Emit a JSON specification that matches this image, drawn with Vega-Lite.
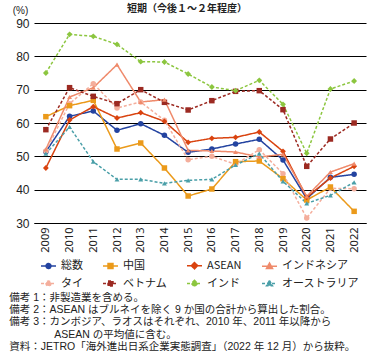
{
  "$schema": "https://vega.github.io/schema/vega-lite/v6.json",
  "padding": {"left": 9, "top": 4, "right": 5, "bottom": 5},
  "background": "white",
  "title": {
    "text": ["備考 1：非製造業を含める。", "備考 2：ASEAN はブルネイを除く 9 か国の合計から算出した割合。", "備考 3：カンボジア、ラオスはそれぞれ、2010 年、2011 年以降から", "\u200b\u3000\u3000\u3000\u3000 ASEAN の平均値に含む。", "資料：JETRO「海外進出日系企業実態調査」（2022 年 12 月）から抜粋。"],
    "orient": "bottom", "anchor": "start", "frame": "bounds",
    "font": "Liberation Sans, Noto Sans CJK JP", "fontSize": 10.5, "fontWeight": "normal", "color": "#222222",
    "lineHeight": 12.2, "offset": -3, "dx": -3
  },
  "vconcat": [
    {
      "width": 332,
      "height": 200,
      "title": {"text": "短期（今後１～２年程度）", "anchor": "middle", "frame": "group", "font": "Noto Sans CJK JP", "fontSize": 10, "fontWeight": "bold", "color": "#222222", "offset": -9, "dx": -13},
      "data": {"values": [
        {"year": "2009", "series": "総数", "value": 51.4}, {"year": "2010", "series": "総数", "value": 62.0}, {"year": "2011", "series": "総数", "value": 63.6}, {"year": "2012", "series": "総数", "value": 57.8}, {"year": "2013", "series": "総数", "value": 59.8}, {"year": "2014", "series": "総数", "value": 56.3}, {"year": "2015", "series": "総数", "value": 51.2}, {"year": "2016", "series": "総数", "value": 52.2}, {"year": "2017", "series": "総数", "value": 53.7}, {"year": "2018", "series": "総数", "value": 55.1}, {"year": "2019", "series": "総数", "value": 48.9}, {"year": "2020", "series": "総数", "value": 37.3}, {"year": "2021", "series": "総数", "value": 43.7}, {"year": "2022", "series": "総数", "value": 44.6},
        {"year": "2009", "series": "中国", "value": 61.9}, {"year": "2010", "series": "中国", "value": 65.2}, {"year": "2011", "series": "中国", "value": 66.8}, {"year": "2012", "series": "中国", "value": 52.2}, {"year": "2013", "series": "中国", "value": 54.0}, {"year": "2014", "series": "中国", "value": 46.5}, {"year": "2015", "series": "中国", "value": 38.1}, {"year": "2016", "series": "中国", "value": 40.2}, {"year": "2017", "series": "中国", "value": 48.4}, {"year": "2018", "series": "中国", "value": 48.6}, {"year": "2019", "series": "中国", "value": 43.3}, {"year": "2020", "series": "中国", "value": 36.9}, {"year": "2021", "series": "中国", "value": 40.8}, {"year": "2022", "series": "中国", "value": 33.5},
        {"year": "2009", "series": "ASEAN", "value": 46.5}, {"year": "2010", "series": "ASEAN", "value": 60.9}, {"year": "2011", "series": "ASEAN", "value": 64.9}, {"year": "2012", "series": "ASEAN", "value": 61.5}, {"year": "2013", "series": "ASEAN", "value": 63.1}, {"year": "2014", "series": "ASEAN", "value": 60.5}, {"year": "2015", "series": "ASEAN", "value": 54.2}, {"year": "2016", "series": "ASEAN", "value": 55.4}, {"year": "2017", "series": "ASEAN", "value": 55.7}, {"year": "2018", "series": "ASEAN", "value": 57.3}, {"year": "2019", "series": "ASEAN", "value": 51.5}, {"year": "2020", "series": "ASEAN", "value": 37.7}, {"year": "2021", "series": "ASEAN", "value": 43.5}, {"year": "2022", "series": "ASEAN", "value": 47.0},
        {"year": "2009", "series": "インドネシア", "value": 52.1}, {"year": "2010", "series": "インドネシア", "value": 67.8}, {"year": "2011", "series": "インドネシア", "value": 70.6}, {"year": "2012", "series": "インドネシア", "value": 77.5}, {"year": "2013", "series": "インドネシア", "value": 66.3}, {"year": "2014", "series": "インドネシア", "value": 67.0}, {"year": "2015", "series": "インドネシア", "value": 51.8}, {"year": "2016", "series": "インドネシア", "value": 51.6}, {"year": "2017", "series": "インドネシア", "value": 51.3}, {"year": "2018", "series": "インドネシア", "value": 49.8}, {"year": "2019", "series": "インドネシア", "value": 50.6}, {"year": "2020", "series": "インドネシア", "value": 38.0}, {"year": "2021", "series": "インドネシア", "value": 45.3}, {"year": "2022", "series": "インドネシア", "value": 47.8},
        {"year": "2009", "series": "タイ", "value": 51.6}, {"year": "2010", "series": "タイ", "value": 65.8}, {"year": "2011", "series": "タイ", "value": 71.8}, {"year": "2012", "series": "タイ", "value": 64.5}, {"year": "2013", "series": "タイ", "value": 66.3}, {"year": "2014", "series": "タイ", "value": 60.8}, {"year": "2015", "series": "タイ", "value": 49.0}, {"year": "2016", "series": "タイ", "value": 50.0}, {"year": "2017", "series": "タイ", "value": 47.6}, {"year": "2018", "series": "タイ", "value": 52.0}, {"year": "2019", "series": "タイ", "value": 44.8}, {"year": "2020", "series": "タイ", "value": 31.5}, {"year": "2021", "series": "タイ", "value": 40.4}, {"year": "2022", "series": "タイ", "value": 40.3},
        {"year": "2009", "series": "ベトナム", "value": 58.0}, {"year": "2010", "series": "ベトナム", "value": 70.6}, {"year": "2011", "series": "ベトナム", "value": 68.0}, {"year": "2012", "series": "ベトナム", "value": 65.8}, {"year": "2013", "series": "ベトナム", "value": 70.0}, {"year": "2014", "series": "ベトナム", "value": 66.2}, {"year": "2015", "series": "ベトナム", "value": 63.9}, {"year": "2016", "series": "ベトナム", "value": 66.7}, {"year": "2017", "series": "ベトナム", "value": 69.5}, {"year": "2018", "series": "ベトナム", "value": 69.7}, {"year": "2019", "series": "ベトナム", "value": 64.0}, {"year": "2020", "series": "ベトナム", "value": 47.0}, {"year": "2021", "series": "ベトナム", "value": 55.2}, {"year": "2022", "series": "ベトナム", "value": 60.0},
        {"year": "2009", "series": "インド", "value": 75.0}, {"year": "2010", "series": "インド", "value": 86.6}, {"year": "2011", "series": "インド", "value": 86.0}, {"year": "2012", "series": "インド", "value": 83.6}, {"year": "2013", "series": "インド", "value": 78.4}, {"year": "2014", "series": "インド", "value": 78.3}, {"year": "2015", "series": "インド", "value": 74.7}, {"year": "2016", "series": "インド", "value": 70.8}, {"year": "2017", "series": "インド", "value": 69.7}, {"year": "2018", "series": "インド", "value": 72.8}, {"year": "2019", "series": "インド", "value": 65.6}, {"year": "2020", "series": "インド", "value": 50.9}, {"year": "2021", "series": "インド", "value": 70.2}, {"year": "2022", "series": "インド", "value": 72.6},
        {"year": "2009", "series": "オーストラリア", "value": 50.8}, {"year": "2010", "series": "オーストラリア", "value": 58.8}, {"year": "2011", "series": "オーストラリア", "value": 48.4}, {"year": "2012", "series": "オーストラリア", "value": 43.1}, {"year": "2013", "series": "オーストラリア", "value": 43.1}, {"year": "2014", "series": "オーストラリア", "value": 41.9}, {"year": "2015", "series": "オーストラリア", "value": 42.8}, {"year": "2016", "series": "オーストラリア", "value": 43.1}, {"year": "2017", "series": "オーストラリア", "value": 47.4}, {"year": "2018", "series": "オーストラリア", "value": 50.8}, {"year": "2019", "series": "オーストラリア", "value": 42.5}, {"year": "2020", "series": "オーストラリア", "value": 35.9}, {"year": "2021", "series": "オーストラリア", "value": 38.3}, {"year": "2022", "series": "オーストラリア", "value": 42.2}
      ]},
      "encoding": {
        "x": {"field": "year", "type": "ordinal", "sort": null, "scale": {"type": "point", "padding": 0.5},
              "axis": {"title": null, "labelAngle": -90, "ticks": false, "domain": true, "domainColor": "#000000", "domainWidth": 1, "labelPadding": 4, "labelFontSize": 11, "labelFont": "Noto Sans", "labelColor": "#222222", "grid": false}},
        "y": {"field": "value", "type": "quantitative", "scale": {"domain": [30, 90], "nice": false, "zero": false},
              "axis": {"title": "(%)", "titleAngle": 0, "titleX": -14, "titleY": -13, "titleAlign": "center", "titleBaseline": "middle", "titleFont": "Liberation Sans", "titleFontSize": 10, "titleFontWeight": "normal", "titleColor": "#222222",
                       "values": [30, 40, 50, 60, 70, 80, 90], "domain": false, "ticks": false, "labelPadding": 5, "labelFontSize": 12, "labelFont": "Liberation Sans", "labelColor": "#222222",
                       "grid": true, "gridColor": "#000000", "gridWidth": 1, "gridOpacity": 1}},
        "color": {"field": "series", "type": "nominal",
                  "scale": {"domain": ["総数", "中国", "ASEAN", "インドネシア", "タイ", "ベトナム", "インド", "オーストラリア"],
                            "range": ["#2343A0", "#EB9A1A", "#D9430F", "#EF8A6B", "#F4AE9C", "#9C2A22", "#8CC63F", "#4A9FA8"]},
                  "legend": {"title": null, "orient": "bottom", "direction": "horizontal", "columns": 4, "columnPadding": 17, "rowPadding": 3, "offset": -2, "padding": 6,
                             "symbolSize": 225, "symbolStrokeWidth": 1.5, "labelOffset": 4, "labelFont": "Noto Sans CJK JP", "labelFontSize": 11, "labelColor": "#222222",
                             "encode": {"symbols": {"update": {
                               "shape": {"signal": "indexof(['総数','タイ'], datum.value) >= 0 ? 'M-1,0L1,0M0.33,0A0.33,0.33,0,1,1,-0.33,0A0.33,0.33,0,1,1,0.33,0Z' : indexof(['中国','ベトナム'], datum.value) >= 0 ? 'M-1,0L1,0M-0.33,-0.33L0.33,-0.33L0.33,0.33L-0.33,0.33Z' : indexof(['ASEAN','インド'], datum.value) >= 0 ? 'M-1,0L1,0M0,-0.42L0.42,0L0,0.42L-0.42,0Z' : 'M-1,0L1,0M0,-0.4L0.4,0.3L-0.4,0.3Z'"},
                               "size": {"value": 225},
                               "fill": {"scale": "color", "field": "value"},
                               "stroke": {"scale": "color", "field": "value"},
                               "strokeWidth": {"value": 1.5},
                               "strokeDash": {"signal": "indexof(['タイ','ベトナム','インド','オーストラリア'], datum.value) >= 0 ? [3, 2] : [1, 0]"},
                               "opacity": {"value": 1}, "fillOpacity": {"value": 1}
                             }}}}}
      },
      "layer": [
        {
          "mark": {"type": "line", "strokeWidth": 1.5},
          "encoding": {
            "strokeDash": {"field": "series", "type": "nominal", "legend": null,
                           "scale": {"domain": ["総数", "中国", "ASEAN", "インドネシア", "タイ", "ベトナム", "インド", "オーストラリア"],
                                     "range": [[1, 0], [1, 0], [1, 0], [1, 0], [3, 2], [3, 2], [3, 2], [3, 2]]}}
          }
        },
        {
          "transform": [{"filter": {"field": "series", "oneOf": ["総数", "タイ"]}}],
          "mark": {"type": "point", "shape": "circle", "filled": true, "size": 30, "opacity": 1}
        },
        {
          "transform": [{"filter": {"field": "series", "oneOf": ["中国", "ベトナム"]}}],
          "mark": {"type": "point", "shape": "square", "filled": true, "size": 30, "opacity": 1}
        },
        {
          "transform": [{"filter": {"field": "series", "oneOf": ["ASEAN", "インド"]}}],
          "mark": {"type": "point", "shape": "diamond", "filled": true, "size": 34, "opacity": 1}
        },
        {
          "transform": [{"filter": {"field": "series", "oneOf": ["インドネシア", "オーストラリア"]}}],
          "mark": {"type": "point", "shape": "triangle-up", "filled": true, "size": 24, "opacity": 1}
        }
      ]
    }
  ],
  "config": {"view": {"stroke": null}}
}
